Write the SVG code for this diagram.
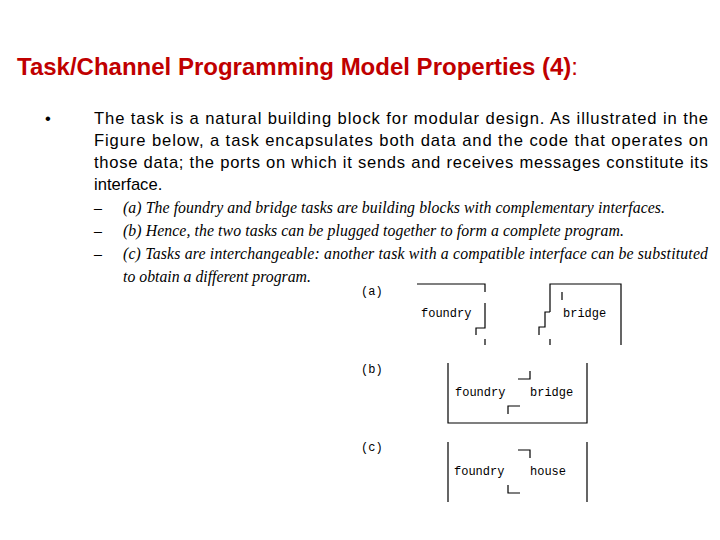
<svg xmlns="http://www.w3.org/2000/svg" width="720" height="540" viewBox="0 0 720 540">
<style>
.t{font-family:"Liberation Sans",Arial,sans-serif;font-size:16.6px;fill:#000}
.s{font-family:"Liberation Serif","Times New Roman",serif;font-size:15.8px;font-style:italic;fill:#000}
.m{font-family:"Liberation Mono","Courier New",monospace;font-size:12px;fill:#000}
.l{stroke:#000;stroke-width:1.2;fill:none}
</style>
<rect width="720" height="540" fill="#fff"/>
<text x="17" y="75" font-family="Liberation Sans,Arial,sans-serif" font-size="24" font-weight="bold" fill="#c00000">Task/Channel Programming Model Properties (4)<tspan font-weight="normal">:</tspan></text>
<text x="45" y="124" class="t" font-size="11">•</text>
<text x="94" y="124" class="t" textLength="614" lengthAdjust="spacing">The task is a natural building block for modular design. As illustrated in the</text>
<text x="94" y="146" class="t" textLength="614" lengthAdjust="spacing">Figure below, a task encapsulates both data and the code that operates on</text>
<text x="94" y="168" class="t" textLength="614" lengthAdjust="spacing">those data; the ports on which it sends and receives messages constitute its</text>
<text x="94" y="190" class="t">interface.</text>
<text x="94" y="213" class="s" font-style="normal">–</text>
<text x="94" y="236" class="s" font-style="normal">–</text>
<text x="94" y="259" class="s" font-style="normal">–</text>
<text x="123" y="213" class="s" textLength="542" lengthAdjust="spacing">(a) The foundry and bridge tasks are building blocks with complementary interfaces.</text>
<text x="123" y="236" class="s" textLength="501" lengthAdjust="spacing">(b) Hence, the two tasks can be plugged together to form a complete program.</text>
<text x="123" y="259" class="s" textLength="585" lengthAdjust="spacing">(c) Tasks are interchangeable: another task with a compatible interface can be substituted</text>
<text x="123" y="282" class="s">to obtain a different program.</text>
<g id="labels">
<text x="361" y="295" class="m" font-size="10">(a)</text>
<text x="361" y="373" class="m" font-size="10">(b)</text>
<text x="361" y="451" class="m" font-size="10">(c)</text>
</g>
<g id="foundry-a">
<path class="l" d="M417 284H485V292M485 303V328H476V335M485 339V345"/>
<text x="421" y="317" class="m">foundry</text>
</g>
<g id="bridge-a">
<path class="l" d="M550 312V284H621V345M550 312H545V327H539V335M550 339V345M562 292V300"/>
<text x="563" y="317" class="m">bridge</text>
</g>
<g id="program-b">
<path class="l" d="M448 363V423H587V363M518 379H530V371M508 414V406H520"/>
<text x="455" y="396" class="m">foundry</text>
<text x="530" y="396" class="m">bridge</text>
</g>
<g id="program-c">
<path class="l" d="M448 442V502M587 442V502M518 450H530V458M508 485V493H520"/>
<text x="454" y="475" class="m">foundry</text>
<text x="530" y="475" class="m">house</text>
</g>
</svg>
